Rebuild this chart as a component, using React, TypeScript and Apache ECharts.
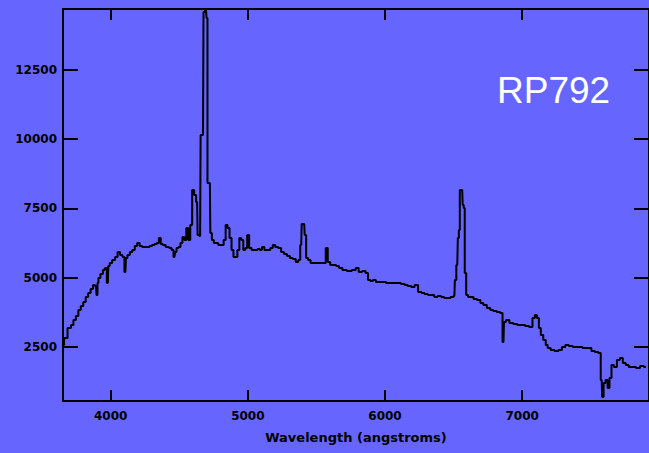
import React, { useEffect, useRef } from "react";
import * as echarts from "echarts";

const title = "RP792";
const xAxisTitle = "Wavelength (angstroms)";
const xTicks = [4000, 5000, 6000, 7000];
const yTicks = [2500, 5000, 7500, 10000, 12500];

const wavelengths = [
  3649, 3671, 3699, 3721, 3735, 3757, 3771, 3792, 3807, 3828, 3843, 3864, 3878, 3893, 3900, 3907, 3914, 3936, 3950, 3964,
  3979, 3986, 4000, 4021, 4043, 4057, 4079, 4093, 4107, 4115, 4129, 4150, 4165, 4186, 4200, 4222, 4236, 4258, 4272, 4294,
  4308, 4329, 4344, 4358, 4372, 4387, 4415, 4437, 4451, 4465, 4473, 4487, 4501, 4516, 4530, 4544, 4558, 4573, 4587, 4601,
  4616, 4630, 4637, 4652, 4659, 4673, 4680, 4695, 4702, 4709, 4723, 4730, 4745, 4759, 4773, 4795, 4816, 4831, 4845, 4859,
  4874, 4888, 4902, 4916, 4931, 4945, 4959, 4974, 4988, 5002, 5017, 5038, 5060, 5081, 5095, 5110, 5131, 5153, 5174, 5189,
  5210, 5232, 5253, 5274, 5296, 5317, 5339, 5360, 5375, 5389, 5396, 5411, 5418, 5432, 5446, 5468, 5489, 5525, 5561, 5575,
  5590, 5611, 5632, 5654, 5675, 5704, 5740, 5776, 5797, 5819, 5847, 5869, 5883, 5905, 5919, 5948, 5969, 5990, 6026, 6062,
  6098, 6134, 6155, 6177, 6205, 6227, 6255, 6277, 6298, 6327, 6348, 6370, 6399, 6420, 6442, 6463, 6492, 6506, 6513, 6527,
  6535, 6542, 6549, 6563, 6570, 6578, 6585, 6599, 6613, 6635, 6656, 6685, 6706, 6728, 6757, 6778, 6800, 6828, 6850, 6864,
  6871, 6893, 6921, 6950, 6979, 7007, 7036, 7065, 7086, 7100, 7115, 7129, 7143, 7165, 7179, 7193, 7222, 7251, 7279, 7301,
  7329, 7351, 7387, 7422, 7458, 7494, 7516, 7544, 7566, 7580, 7587, 7601, 7616, 7630, 7644, 7659, 7680, 7702, 7723, 7745,
  7766, 7788, 7816, 7845, 7874, 7903,
];

const flux = [
  2572, 2825, 3186, 3294, 3475, 3619, 3836, 3980, 4124, 4305, 4449, 4594, 4738, 4702, 4377, 4810, 4991, 5135, 5280, 5352,
  4810, 5424, 5532, 5641, 5749, 5930, 5821, 5749, 5208, 5713, 5821, 5930, 6002, 6146, 6254, 6146, 6110, 6110, 6110, 6146,
  6182, 6218, 6254, 6435, 6218, 6182, 6110, 6074, 6002, 5749, 5930, 6074, 6110, 6254, 6471, 6363, 6796, 6363, 6904, 8168,
  7987, 7735, 6543, 6507, 10153, 10153, 14594, 14680, 14377, 8420, 8420, 6615, 6363, 6254, 6254, 6182, 6182, 6363, 6904, 6796,
  6435, 6002, 5749, 5749, 6002, 6435, 6363, 6002, 6074, 6543, 6074, 6002, 6002, 6038, 6002, 6110, 6002, 6002, 6074, 6182,
  6110, 6074, 5930, 5857, 5785, 5713, 5677, 5569, 5641, 6182, 6940, 6940, 6543, 5713, 5641, 5532, 5532, 5532, 5532, 6074,
  5569, 5460, 5460, 5424, 5352, 5280, 5244, 5280, 5352, 5208, 5244, 5171, 4919, 4883, 4919, 4847, 4847, 4847, 4810, 4810,
  4810, 4774, 4738, 4702, 4666, 4738, 4486, 4449, 4413, 4377, 4377, 4305, 4341, 4305, 4269, 4269, 4305, 4341, 4919, 5460,
  6435, 6724, 8168, 8168, 7626, 7518, 5171, 4377, 4305, 4305, 4233, 4197, 4088, 4016, 3908, 3836, 3800, 3764, 3727, 2681,
  3403, 3475, 3366, 3330, 3294, 3294, 3258, 3222, 3547, 3655, 3547, 3186, 2933, 2753, 2572, 2464, 2392, 2356, 2392, 2500,
  2572, 2536, 2500, 2500, 2464, 2464, 2356, 2320, 2283, 1309, 695, 1200, 1309, 1020, 1381, 1850, 1778, 2031, 2103, 1922,
  1850, 1778, 1778, 1742, 1814, 1778,
];

const X_MIN = 3652;
const X_MAX = 7925;
const Y_MIN = 550;
const Y_MAX = 14700;

export default function App() {
  const ref = useRef<HTMLDivElement>(null);

  useEffect(() => {
    if (!ref.current) return;
    const chart = echarts.init(ref.current, null, { renderer: "svg" });
    const labelFont = {
      color: "#000",
      fontFamily: "DejaVu Sans",
      fontWeight: "bold" as const,
      fontSize: 12,
    };
    const lineStyle = { color: "#000", width: 2 };
    const plain = (v: number) => String(v);
    chart.setOption({
      animation: false,
      backgroundColor: "#6666ff",
      grid: { left: 63, right: -11, top: 9, bottom: 52, containLabel: false },
      xAxis: [
        {
          type: "value",
          position: "bottom",
          min: X_MIN,
          max: X_MAX,
          name: xAxisTitle,
          nameLocation: "middle",
          nameGap: 30,
          nameTextStyle: { ...labelFont, fontSize: 13, verticalAlign: "top" },
          axisLine: { show: true, onZero: false, lineStyle },
          axisTick: { show: true, inside: true, length: 11, customValues: xTicks, lineStyle },
          axisLabel: { show: true, customValues: xTicks, margin: 9, formatter: plain, ...labelFont },
          splitLine: { show: false },
        },
        {
          type: "value",
          position: "top",
          min: X_MIN,
          max: X_MAX,
          axisLine: { show: true, onZero: false, lineStyle },
          axisTick: { show: true, inside: true, length: 11, customValues: xTicks, lineStyle },
          axisLabel: { show: false },
          splitLine: { show: false },
        },
      ],
      yAxis: [
        {
          type: "value",
          position: "left",
          min: Y_MIN,
          max: Y_MAX,
          axisLine: { show: true, onZero: false, lineStyle },
          axisTick: { show: true, inside: true, length: 15, customValues: yTicks, lineStyle },
          axisLabel: { show: true, customValues: yTicks, margin: 6, formatter: plain, ...labelFont },
          splitLine: { show: false },
        },
        {
          type: "value",
          position: "right",
          min: Y_MIN,
          max: Y_MAX,
          axisLine: { show: true, onZero: false, lineStyle },
          axisTick: { show: true, inside: true, length: 15, customValues: yTicks, lineStyle },
          axisLabel: { show: false },
          splitLine: { show: false },
        },
      ],
      graphic: [
        {
          type: "text",
          left: 497,
          top: 72,
          style: {
            text: title,
            fill: "#ffffff",
            fontFamily: "Liberation Sans",
            fontSize: 37,
            fontWeight: "normal",
          },
        },
      ],
      series: [
        {
          type: "line",
          xAxisIndex: 0,
          yAxisIndex: 0,
          step: "middle",
          showSymbol: false,
          symbol: "none",
          lineStyle: { color: "#000", width: 2 },
          data: wavelengths.map((w, i) => [w, flux[i]]),
        },
      ],
    });
    return () => chart.dispose();
  }, []);

  return (
    <div
      ref={ref}
      style={{ position: "absolute", left: 0, top: 0, width: 649, height: 453 }}
    />
  );
}
